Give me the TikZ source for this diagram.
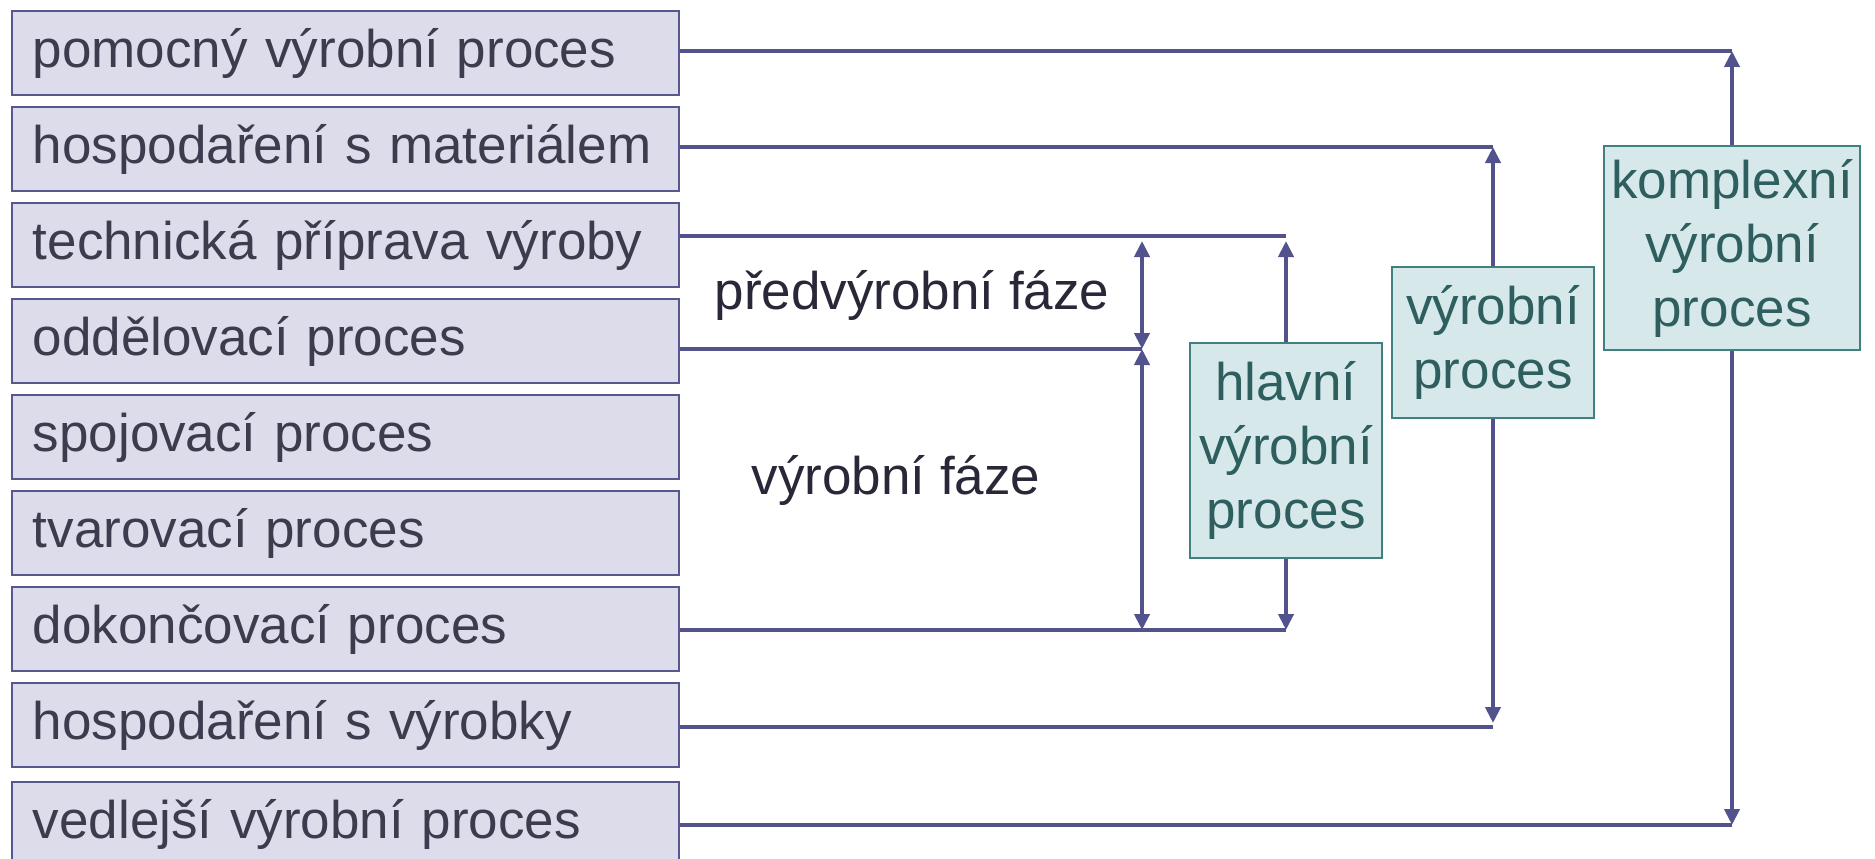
\documentclass[tikz,border=0pt]{standalone}
\usepackage{fontspec}
\setmainfont{Liberation Sans}
\usetikzlibrary{arrows.meta}
\definecolor{linecol}{RGB}{82,82,140}
\definecolor{lfill}{RGB}{220,220,234}
\definecolor{ldraw}{RGB}{88,88,145}
\definecolor{ltext}{RGB}{60,60,78}
\definecolor{gfill}{RGB}{214,232,234}
\definecolor{gdraw}{RGB}{64,128,128}
\definecolor{gtext}{RGB}{46,94,94}
\definecolor{labtext}{RGB}{40,40,56}
\tikzset{
  lbox/.style={draw=ldraw, fill=lfill, line width=2pt, anchor=north west,
    inner xsep=21pt, inner ysep=0pt, text width=625pt, align=left,
    text height=56pt, text depth=28pt, text=ltext,
    font=\fontsize{53}{64}\selectfont},
  gbox/.style={draw=gdraw, fill=gfill, line width=2pt, inner sep=0pt,
    align=center, text=gtext, font=\fontsize{53}{64}\selectfont},
  lab/.style={text=labtext, inner sep=0pt, font=\fontsize{53}{64}\selectfont},
  conn/.style={draw=linecol, line width=4.3pt},
  arr/.style={conn, -{Triangle[length=16pt,width=15pt]}},
  dbl/.style={conn, {Triangle[length=16pt,width=15pt]}-{Triangle[length=16pt,width=15pt]}}
}
\begin{document}
\begin{tikzpicture}[x=1pt,y=-1pt]
\useasboundingbox (0,0) rectangle (1875,859);
% left boxes
\node[lbox] (b1) at (10.8,10) {pomocný výrobní proces};
\node[lbox] (b2) at (10.8,106) {hospodaření s materiálem};
\node[lbox] (b3) at (10.8,202) {technická příprava výroby};
\node[lbox] (b4) at (10.8,298) {oddělovací proces};
\node[lbox] (b5) at (10.8,394) {spojovací proces};
\node[lbox] (b6) at (10.8,490) {tvarovací proces};
\node[lbox] (b7) at (10.8,586) {dokončovací proces};
\node[lbox] (b8) at (10.8,682) {hospodaření s výrobky};
\node[lbox] (b9) at (10.8,781) {vedlejší výrobní proces};
% right boxes
\node[gbox, minimum width=192pt, minimum height=215pt] (hp) at (1286,450.5) {hlavní\\výrobní\\proces};
\node[gbox, minimum width=202pt, minimum height=151pt] (vp) at (1493,342.5) {výrobní\\proces};
\node[gbox, minimum width=256pt, minimum height=204pt] (kp) at (1732,248) {komplexní\\výrobní\\proces};
% phase labels
\node[lab] (pf) at (912,295) {předvýrobní fáze};
\node[lab] (vf) at (896,480) {výrobní fáze};
% junctions
\coordinate (j1) at (1732,51);
\coordinate (j2) at (1493,147);
\coordinate (j3) at (1286,236);
\coordinate (j4) at (1142,349);
\coordinate (j7) at (1286,630);
\coordinate (j8) at (1493,727);
\coordinate (j9) at (1732,825);
\coordinate (t3) at (1286,241);
% horizontal lines
\draw[conn] (b1.east |- j1) -- (j1);
\draw[conn] (b2.east |- j2) -- (j2);
\draw[conn] (b3.east |- j3) -- (j3);
\draw[conn] (b4.east |- j4) -- (j4);
\draw[conn] (b7.east |- j7) -- (j7);
\draw[conn] (b8.east |- j8) -- (j8);
\draw[conn] (b9.east |- j9) -- (j9);
% arrows
\draw[arr] (kp.north) -- (j1);
\draw[arr] (kp.south) -- (j9);
\draw[arr] (vp.north) -- (j2);
\draw[arr] (vp.south) -- ([yshift=4pt]j8);
\draw[arr] (hp.north) -- (t3);
\draw[arr] (hp.south) -- (j7);
\draw[dbl] (t3 -| j4) -- (j4);
\draw[dbl] (j4) -- (j4 |- j7);
\end{tikzpicture}
\end{document}
